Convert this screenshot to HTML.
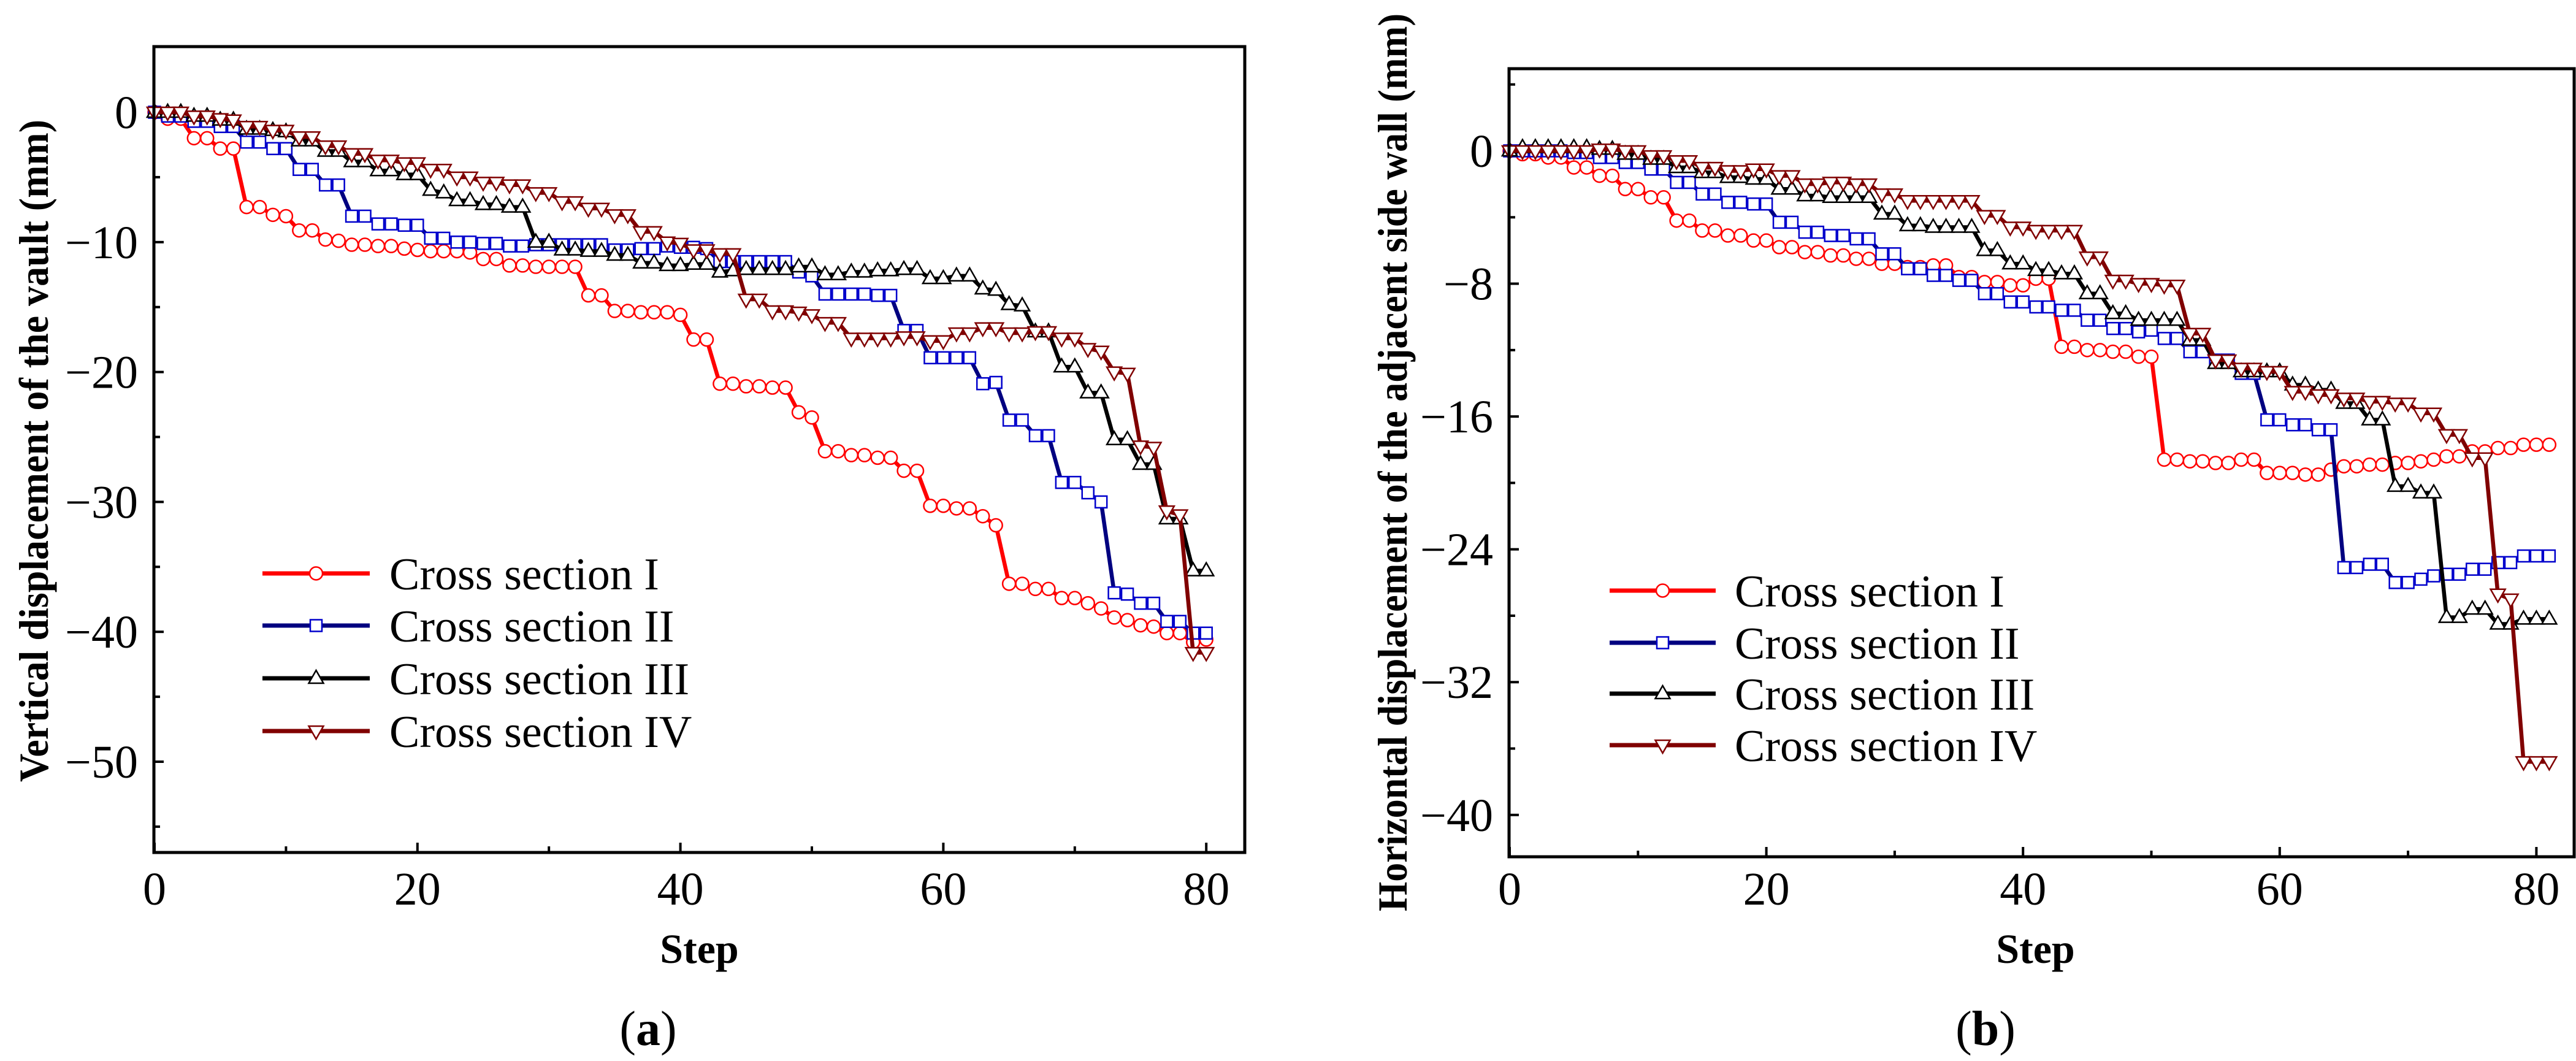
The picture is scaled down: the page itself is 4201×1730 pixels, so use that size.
<!DOCTYPE html>
<html><head><meta charset="utf-8"><style>
html,body{margin:0;padding:0;background:#fff;}
svg{display:block;}
text{font-family:"Liberation Serif",serif;}
</style></head>
<body>
<svg id="fig" width="4201" height="1730" viewBox="0 0 4201 1730" xmlns="http://www.w3.org/2000/svg"></svg>
<script>
// ---------- data ----------
const stepsA = Array.from({length:81},(_,i)=>i);
const stepsB = Array.from({length:82},(_,i)=>i);
const vaultI=[0,-0.5,-0.5,-2,-2,-2.8,-2.8,-7.3,-7.3,-7.9,-8,-9.1,-9.1,-9.8,-9.9,-10.2,-10.2,-10.3,-10.3,-10.5,-10.6,-10.7,-10.7,-10.7,-10.8,-11.3,-11.3,-11.8,-11.8,-11.9,-11.9,-11.9,-11.9,-14.1,-14.1,-15.3,-15.3,-15.4,-15.4,-15.4,-15.6,-17.5,-17.5,-20.9,-20.9,-21.1,-21.1,-21.2,-21.2,-23.1,-23.5,-26.1,-26.1,-26.4,-26.4,-26.6,-26.6,-27.6,-27.6,-30.3,-30.3,-30.5,-30.5,-31.1,-31.8,-36.3,-36.3,-36.7,-36.7,-37.4,-37.4,-37.8,-38.2,-38.9,-39.1,-39.5,-39.6,-40.1,-40.1,-40.8,-40.6];
const vaultII=[0,-0.3,-0.3,-0.7,-0.7,-1.1,-1.1,-2.3,-2.3,-2.8,-2.8,-4.4,-4.4,-5.6,-5.6,-8,-8,-8.6,-8.6,-8.7,-8.7,-9.7,-9.7,-10,-10,-10.1,-10.1,-10.3,-10.3,-10.2,-10.2,-10.2,-10.2,-10.2,-10.2,-10.6,-10.6,-10.5,-10.5,-10.3,-10.4,-10.4,-10.5,-11.5,-11.5,-11.5,-11.5,-11.5,-11.5,-12.3,-12.6,-14,-14,-14,-14,-14.1,-14.1,-16.8,-16.8,-18.9,-18.9,-18.9,-18.9,-20.9,-20.8,-23.7,-23.7,-24.9,-24.9,-28.5,-28.5,-29.3,-30,-37,-37.1,-37.8,-37.8,-39.2,-39.2,-40.1,-40.1];
const vaultIII=[0,0,0,-0.3,-0.3,-0.6,-0.6,-1.3,-1.3,-1.4,-1.5,-2.2,-2.2,-3,-3,-3.8,-3.8,-4.5,-4.5,-4.8,-4.8,-6,-6.2,-6.8,-6.8,-7.1,-7.1,-7.3,-7.3,-10,-10,-10.6,-10.6,-10.7,-10.7,-11,-11,-11.6,-11.6,-11.8,-11.8,-11.7,-11.7,-12.3,-12.2,-12.1,-12.1,-12.1,-12.1,-11.9,-11.9,-12.5,-12.5,-12.3,-12.3,-12.2,-12.2,-12.1,-12.1,-12.8,-12.8,-12.6,-12.6,-13.6,-13.7,-14.8,-14.9,-16.9,-16.9,-19.6,-19.6,-21.6,-21.6,-25.2,-25.2,-27.1,-27.1,-31.3,-31.3,-35.3,-35.3];
const vaultIV=[0,0,0,-0.3,-0.3,-0.5,-0.6,-1.1,-1.1,-1.4,-1.4,-1.9,-1.9,-2.6,-2.6,-3.2,-3.2,-3.7,-3.7,-3.9,-3.9,-4.4,-4.4,-5,-5,-5.4,-5.4,-5.6,-5.6,-6.2,-6.2,-6.9,-6.9,-7.4,-7.4,-7.9,-7.9,-9.2,-9.2,-10,-10.1,-10.6,-10.6,-10.9,-10.9,-14.4,-14.4,-15.3,-15.3,-15.4,-15.6,-16.2,-16.2,-17.4,-17.4,-17.4,-17.4,-17.3,-17.3,-17.6,-17.6,-17,-17,-16.6,-16.6,-17,-17,-16.9,-16.9,-17.4,-17.4,-18.2,-18.4,-20,-20.1,-25.7,-25.8,-30.7,-31,-41.6,-41.6];
const wallI=[0,-0.2,-0.2,-0.4,-0.4,-1,-1,-1.5,-1.5,-2.3,-2.3,-2.8,-2.8,-4.2,-4.2,-4.8,-4.8,-5.1,-5.1,-5.4,-5.4,-5.8,-5.8,-6.1,-6.1,-6.3,-6.3,-6.5,-6.5,-6.8,-6.8,-7,-7,-6.9,-6.9,-7.6,-7.6,-7.9,-7.9,-8.1,-8.1,-7.7,-7.7,-11.8,-11.8,-12,-12,-12.1,-12.1,-12.4,-12.4,-18.6,-18.6,-18.7,-18.7,-18.8,-18.8,-18.6,-18.6,-19.4,-19.4,-19.4,-19.5,-19.5,-19.2,-19,-19,-18.9,-18.9,-18.8,-18.8,-18.7,-18.6,-18.4,-18.4,-18.1,-18.1,-17.9,-17.9,-17.7,-17.7,-17.7];
const wallII=[0,0,0,0,0,-0.1,-0.1,-0.4,-0.4,-0.7,-0.7,-1.1,-1.1,-1.9,-1.9,-2.6,-2.6,-3.1,-3.1,-3.2,-3.2,-4.3,-4.3,-4.9,-4.9,-5.1,-5.1,-5.3,-5.3,-6.2,-6.2,-7.1,-7.1,-7.5,-7.5,-7.8,-7.8,-8.6,-8.6,-9.1,-9.1,-9.4,-9.4,-9.6,-9.6,-10.2,-10.2,-10.7,-10.7,-10.9,-10.8,-11.3,-11.3,-12.1,-12.1,-12.6,-12.6,-13.4,-13.4,-16.2,-16.2,-16.5,-16.5,-16.8,-16.8,-25.1,-25.1,-24.9,-24.9,-26,-26,-25.8,-25.6,-25.5,-25.5,-25.2,-25.2,-24.8,-24.8,-24.4,-24.4,-24.4];
const wallIII=[0,0.2,0.2,0.2,0.2,0.2,0.2,0.1,0.1,-0.2,-0.2,-0.5,-0.5,-1,-1,-1.3,-1.3,-1.6,-1.6,-1.7,-1.7,-2.3,-2.3,-2.7,-2.7,-2.8,-2.8,-2.8,-2.8,-3.8,-3.8,-4.5,-4.5,-4.6,-4.6,-4.6,-4.6,-6,-6,-6.8,-6.8,-7.2,-7.2,-7.4,-7.4,-8.6,-8.6,-9.8,-9.8,-10.2,-10.2,-10.2,-10.2,-11.4,-11.4,-12.8,-12.8,-13.3,-13.3,-13.3,-13.3,-14.1,-14.1,-14.4,-14.4,-15.2,-15.2,-16.2,-16.2,-20.2,-20.2,-20.6,-20.6,-28.1,-28.1,-27.6,-27.6,-28.5,-28.5,-28.2,-28.2,-28.2];
const wallIV=[0,0,0,0,0,0,0,0.1,0.1,0,0,-0.3,-0.3,-0.6,-0.6,-1,-1,-1.2,-1.2,-1.1,-1.1,-1.5,-1.5,-2,-2,-1.9,-1.9,-2,-2,-2.6,-2.6,-3,-3,-3,-3,-3,-3,-3.9,-3.9,-4.6,-4.6,-4.8,-4.8,-4.8,-4.8,-6.4,-6.4,-7.8,-7.8,-8,-8,-8.1,-8.1,-11,-11,-12.6,-12.6,-13.1,-13.1,-13.3,-13.3,-14.5,-14.5,-14.7,-14.7,-14.9,-14.9,-15.1,-15.1,-15.2,-15.2,-15.8,-15.8,-17.1,-17.1,-18.5,-18.5,-26.7,-27,-36.8,-36.8,-36.8];
const legendLabels=["Cross section I","Cross section II","Cross section III","Cross section IV"];
const xTicks=[0,20,40,60,80];
const yTicksA=[0,-10,-20,-30,-40,-50];
const yTicksB=[0,-8,-16,-24,-32,-40];

// ---------- drawing ----------
const NS="http://www.w3.org/2000/svg";
const svg=document.getElementById('fig');
function mk(tag,attrs,parent){const e=document.createElementNS(NS,tag);for(const k in attrs)e.setAttribute(k,attrs[k]);(parent||svg).appendChild(e);return e;}
const styles=[{c:"#ff0000",lc:"#ff0000",m:"circle"},{c:"#0000cc",lc:"#000080",m:"square"},{c:"#000000",lc:"#000000",m:"up"},{c:"#800000",lc:"#800000",m:"down"}];
function marker(g,type,x,y,col){
  const r=10.5;let e;
  if(type==="circle")e=mk('circle',{cx:x,cy:y,r:r,fill:'#fff',stroke:col,'stroke-width':2.5},g);
  else if(type==="square")e=mk('rect',{x:x-9.5,y:y-9.5,width:19,height:19,fill:'#fff',stroke:col,'stroke-width':2.5},g);
  else if(type==="up")e=mk('polygon',{points:`${x},${y-13} ${x-12},${y+8} ${x+12},${y+8}`,fill:'#fff',stroke:col,'stroke-width':2.5},g);
  else e=mk('polygon',{points:`${x},${y+13} ${x-12},${y-8} ${x+12},${y-8}`,fill:'#fff',stroke:col,'stroke-width':2.5},g);
  return e;
}
function chart(cfg){
  const {id,fx0,fx1,fy0,fy1,xmin,xmax,steps,series,yTicks,yMinor,yTitle,yTitleX,leg,cap,capX}=cfg;
  const g=mk('g',{});
  
  
  const X=v=>cfg.x0+(v-xmin)*cfg.xs;
  const Y=v=>cfg.y0-(v)*cfg.ys;
  xTicks.forEach(t=>{
    const l=mk('line',{x1:X(t),x2:X(t),y1:fy1,y2:fy1-16,stroke:'#000','stroke-width':4},g);
    
    const tx=mk('text',{x:X(t),y:1475,'font-size':76,'text-anchor':'middle'},g);tx.textContent=t;
    
    if(t<xmax){const m=mk('line',{x1:X(t+10),x2:X(t+10),y1:fy1,y2:fy1-10,stroke:'#000','stroke-width':4},g);
      }
  });
  yTicks.forEach(t=>{
    const l=mk('line',{x1:fx0,x2:fx0+16,y1:Y(t),y2:Y(t),stroke:'#000','stroke-width':4},g);
    
    const tx=mk('text',{x:fx0-26,y:Y(t)+26,'font-size':76,'text-anchor':'end'},g);tx.textContent=(t<0?'\u2212'+(-t):t);
    
  });
  yMinor.forEach(t=>{const m=mk('line',{x1:fx0,x2:fx0+10,y1:Y(t),y2:Y(t),stroke:'#000','stroke-width':4},g);
    });
  series.forEach((s,i)=>{
    const st=styles[i];
    const sg=mk('g',{},g);
    
    
    const pts=s.map((v,k)=>X(steps[k])+','+Y(v)).join(' ');
    const pl=mk('polyline',{points:pts,fill:'none',stroke:st.lc,'stroke-width':6.5,'stroke-linejoin':'round'},sg);
    
    s.forEach((v,k)=>{const m=marker(sg,st.m,X(steps[k]),Y(v),st.c);
      });
  });
  const fr=mk('rect',{x:fx0,y:fy0,width:fx1-fx0,height:fy1-fy0,fill:'none',stroke:'#000','stroke-width':5},g);
  
  const xt=mk('text',{x:(fx0+fx1)/2+cfg.stepDx,y:1570,'font-size':68,'font-weight':'bold','text-anchor':'middle'},g);xt.textContent="Step";
  
  const yt=mk('text',{x:0,y:0,'font-size':68,'font-weight':'bold','text-anchor':'middle',transform:`translate(${yTitleX},${cfg.yTitleY}) rotate(-90)`,textLength:cfg.yTitleLen,lengthAdjust:'spacingAndGlyphs'},g);yt.textContent=yTitle;
  
  legendLabels.forEach((lab,i)=>{
    const st=styles[i];const y=leg.ys[i];
    const lg=mk('g',{},g);
    
    
    mk('line',{x1:leg.x0,x2:leg.x1,y1:y,y2:y,stroke:st.lc,'stroke-width':7},lg);
    marker(lg,st.m,(leg.x0+leg.x1)/2,y,st.c);
    const t=mk('text',{x:leg.tx,y:y+26,'font-size':74},lg);t.textContent=lab;
  });
  const c=mk('text',{x:capX,y:1704,'font-size':80,'text-anchor':'middle'},g);
  c.innerHTML='(<tspan font-weight="bold">'+cap+'</tspan>)';
  
}
chart({id:'chart-a-vault',fx0:251,fx1:2030,fy0:76,fy1:1390,xmin:0,xmax:80,x0:252,xs:21.44,y0:183,ys:21.18,
  steps:stepsA,series:[vaultI,vaultII,vaultIII,vaultIV],yTicks:yTicksA,yMinor:[-5,-15,-25,-35,-45,-55],
  yTitle:"Vertical displacement of the vault (mm)",yTitleX:78,yTitleY:735,yTitleLen:1080,stepDx:0,
  leg:{x0:428,x1:603,tx:635,ys:[935,1020,1106,1192]},cap:'a',capX:1057});
chart({id:'chart-b-side-wall',fx0:2461,fx1:4198,fy0:112,fy1:1397,xmin:0,xmax:80,x0:2462,xs:20.93,y0:246,ys:27.07,
  steps:stepsB,series:[wallI,wallII,wallIII,wallIV],yTicks:yTicksB,yMinor:[4,-4,-12,-20,-28,-36],
  yTitle:"Horizontal displacement of the adjacent side wall (mm)",yTitleX:2294,yTitleY:754,yTitleLen:1464,stepDx:-10,
  leg:{x0:2625,x1:2798,tx:2829,ys:[963,1048,1131,1215]},cap:'b',capX:3238});
</script>
</body></html>
